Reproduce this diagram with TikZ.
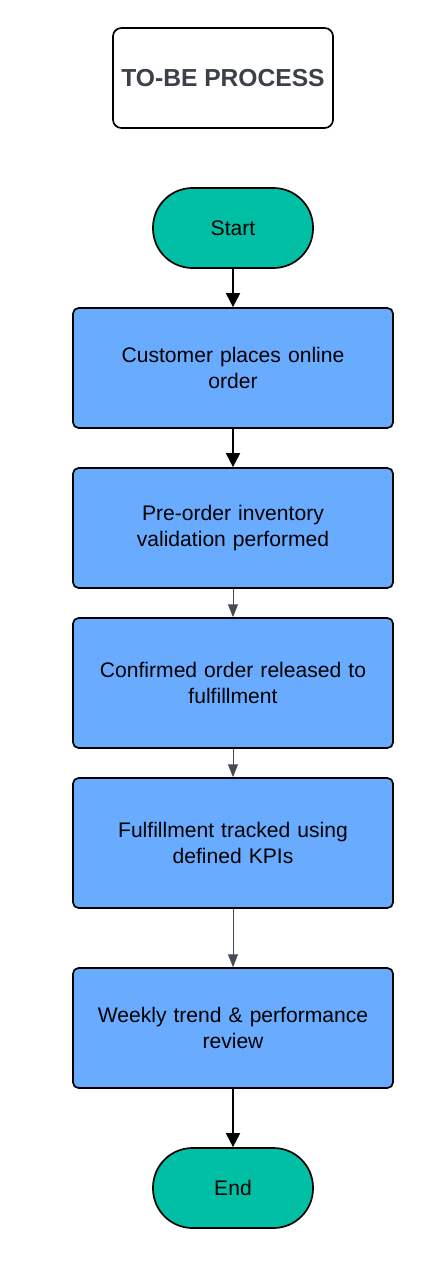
\documentclass[tikz,border=0pt]{standalone}
\usepackage{fontspec}
\setmainfont{Liberation Sans}
\usetikzlibrary{arrows.meta}
\definecolor{termTeal}{HTML}{00BFA5}
\definecolor{stepBlue}{HTML}{69ACFF}
\definecolor{titleGray}{HTML}{3B4049}
\definecolor{flowGray}{HTML}{454B55}

\begin{document}
\begin{tikzpicture}[
  x=0.025cm, y=-0.025cm,
  line join=round,
  every node/.style={font=\fontsize{15}{18.5}\selectfont, align=center},
  stepbox/.style={draw=black, line width=1.2pt, fill=stepBlue, rounded corners=4pt,
    minimum width=8cm, text width=7.6cm},
  termbox/.style={draw=black, line width=1.2pt, fill=termTeal, rounded corners=0.99cm,
    minimum width=4cm, minimum height=2cm},
  heavy/.style={-{Triangle[length=10pt,width=10pt]}, line width=1.3pt, black},
  light/.style={-{Triangle[length=9pt,width=7pt]}, line width=0.6pt, flowGray}
]
  \useasboundingbox (0,0) rectangle (434,1269);

  % Title
  \node[draw=black, line width=1.2pt, rounded corners=6pt, fill=white,
    minimum width=5.5cm, minimum height=2.5cm, text=titleGray,
    font=\fontsize{17.5}{20}\selectfont\bfseries] (title) at (223,78) {TO-BE PROCESS};

  % Terminals
  \node[termbox] (start) at (233,228) {Start};
  \node[termbox] (end) at (233,1188) {End};

  % Process steps
  \node[stepbox, minimum height=3cm] (order) at (233,368) {Customer places online\\order};
  \node[stepbox, minimum height=3cm] (validate) at (233,528) {Pre-order inventory\\validation performed};
  \node[stepbox, minimum height=3.25cm] (release) at (233,683) {Confirmed order released to\\fulfillment};
  \node[stepbox, minimum height=3.25cm] (track) at (233,843) {Fulfillment tracked using\\defined KPIs};
  \node[stepbox, minimum height=3cm] (review) at (233,1028) {Weekly trend \& performance\\review};

  % Connectors
  \draw[heavy] (start.south) -- (order.north);
  \draw[heavy] (order.south) -- (validate.north);
  \draw[light] (validate.south) -- (release.north);
  \draw[light] (release.south) -- (track.north);
  \draw[light] (track.south) -- (review.north);
  \draw[heavy] (review.south) -- (end.north);
\end{tikzpicture}
\end{document}
